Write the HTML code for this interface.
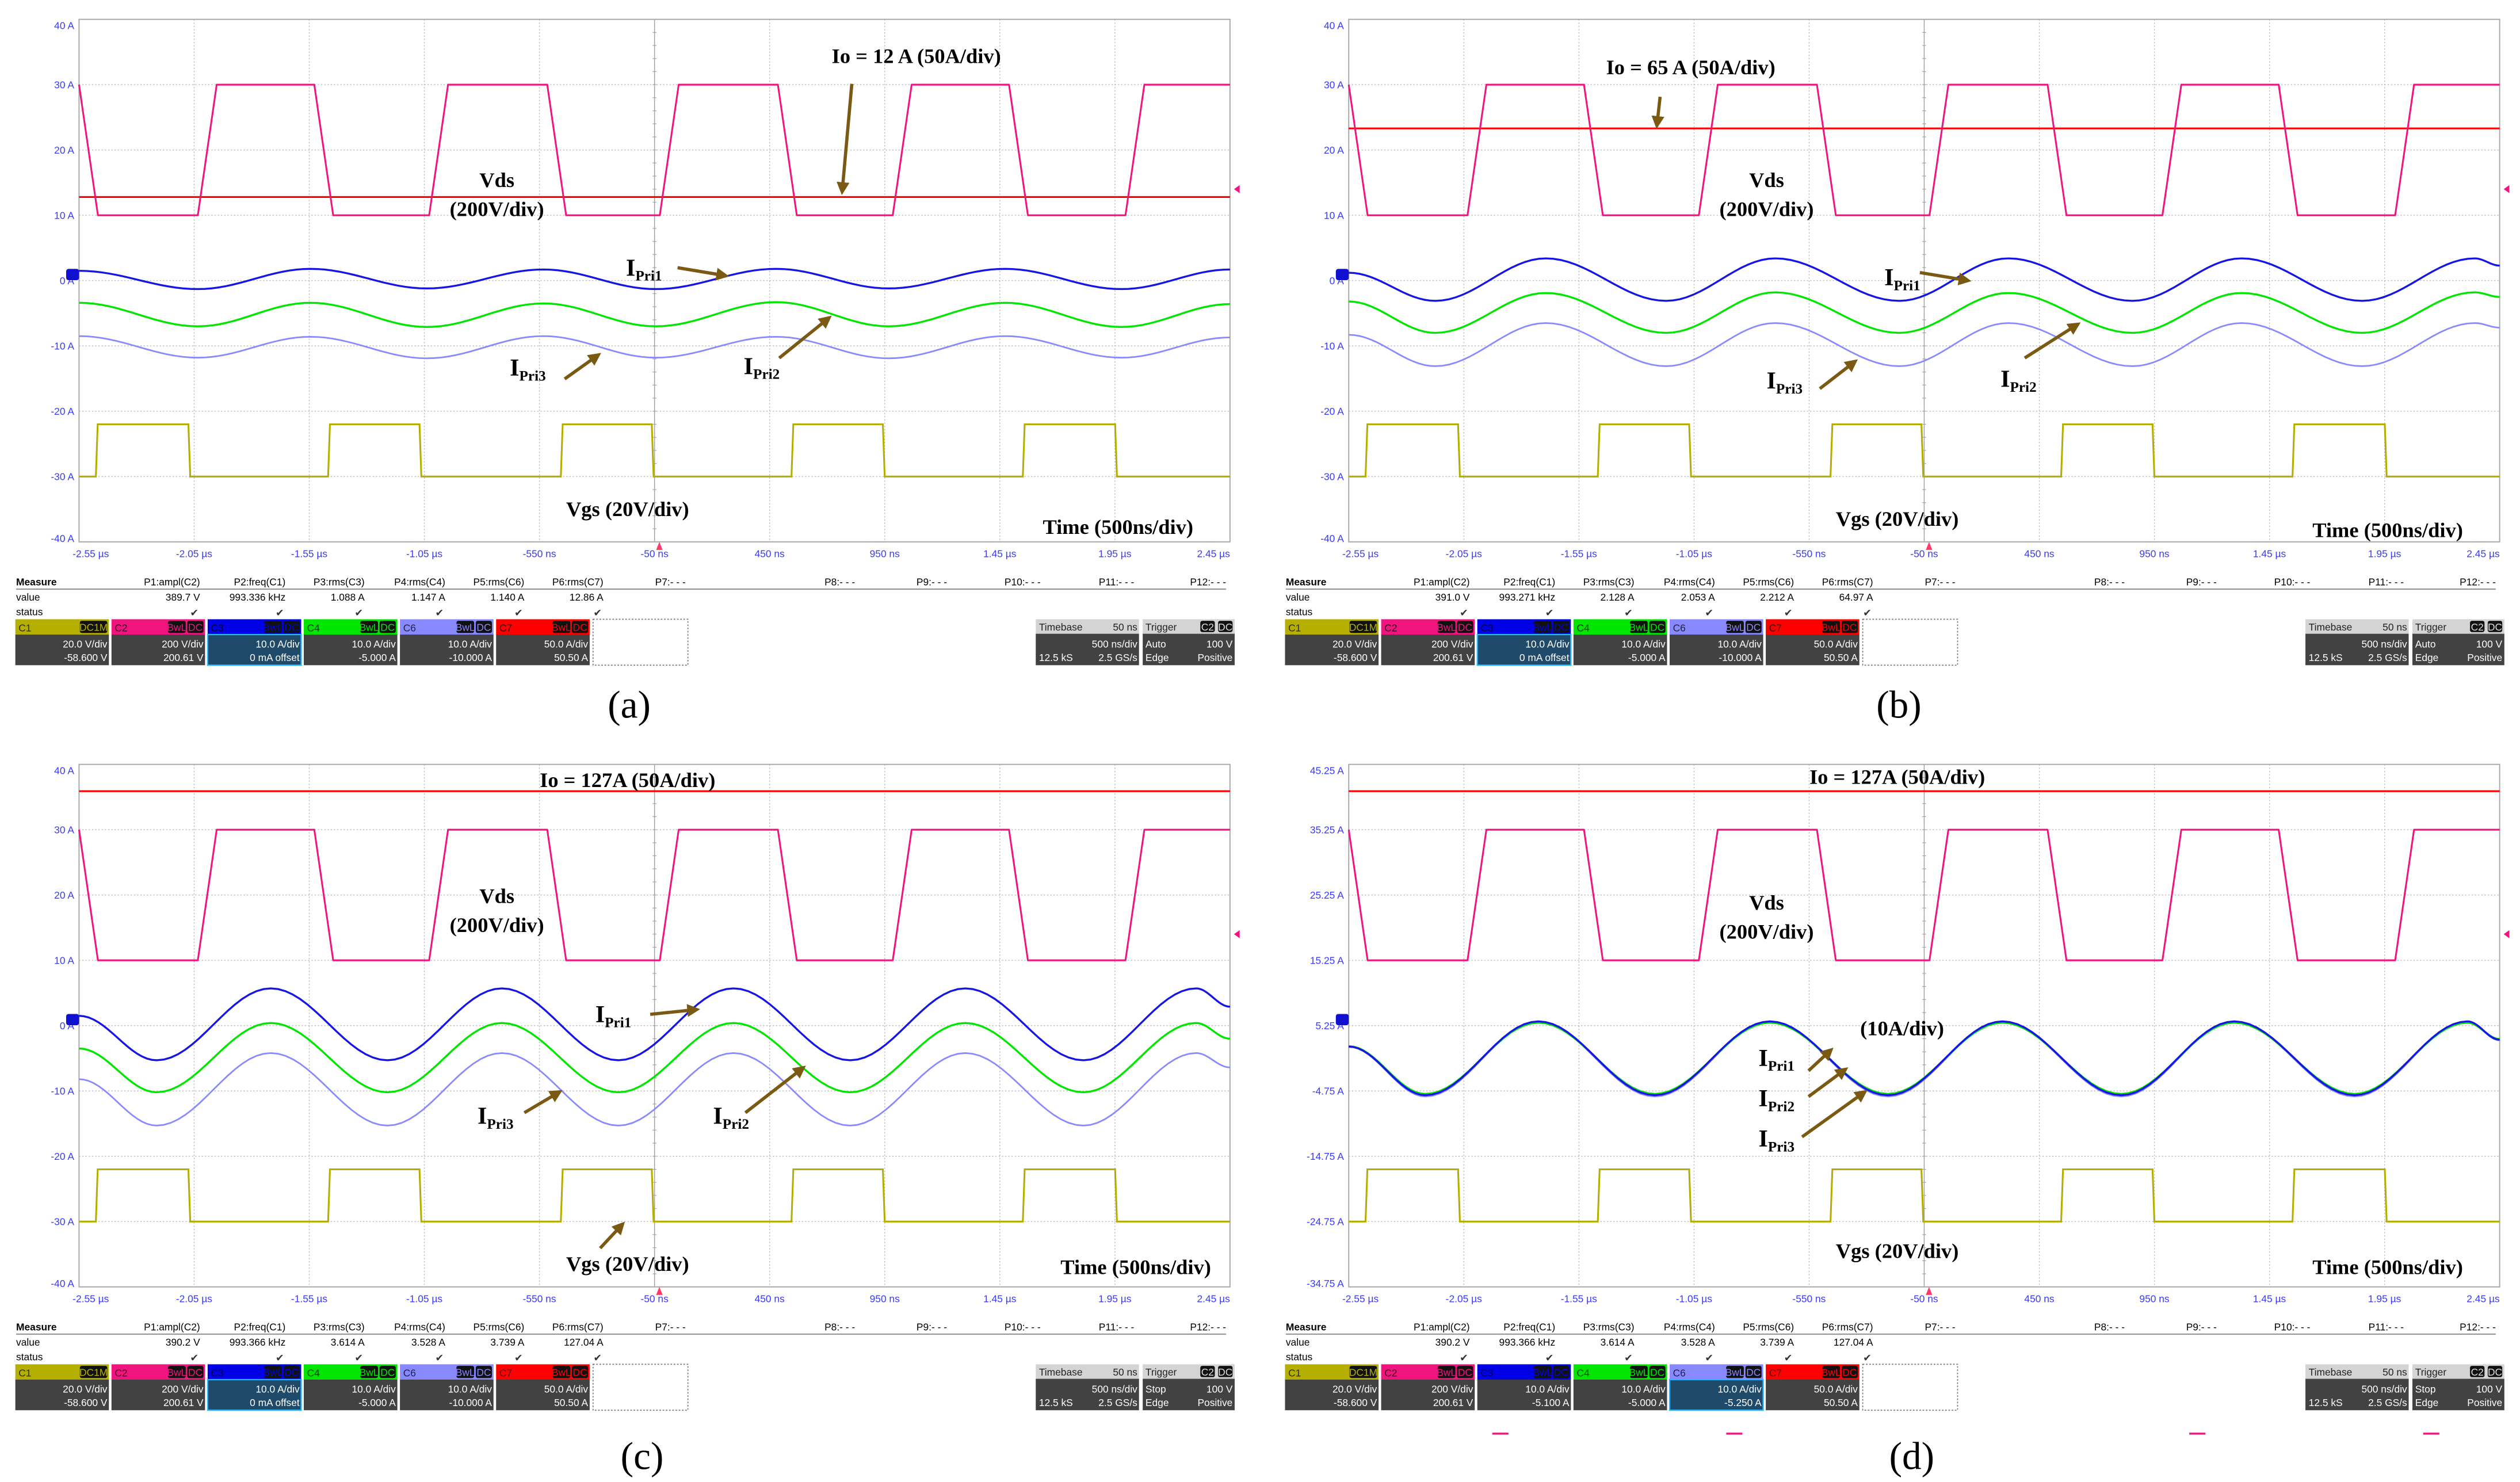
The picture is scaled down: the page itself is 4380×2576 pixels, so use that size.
<!DOCTYPE html>
<html><head><meta charset="utf-8"><title>Oscilloscope waveforms (a)-(d)</title>
<style>
html,body{margin:0;padding:0;background:#fff;}
svg{display:block;}
.ann{font-family:"Liberation Serif",serif;font-weight:bold;font-size:13px;fill:#000;}
.cap{font-family:"Liberation Serif",serif;font-size:24px;fill:#000;}
.sc{font-family:"Liberation Sans",sans-serif;font-size:6.2px;}
</style></head>
<body>
<svg id="fig" xmlns="http://www.w3.org/2000/svg" width="4380" height="2576" viewBox="0 0 1562 919" preserveAspectRatio="none">
<defs>
<marker id="ah" markerWidth="4" markerHeight="4" refX="3" refY="2" orient="auto" markerUnits="strokeWidth"><path d="M0,0 L4,2 L0,4 Z" fill="#7a5a12"/></marker>
</defs>
<rect x="0" y="0" width="1562" height="919" fill="#fff"/>
<g id="layer-scope"></g>

<g transform="translate(0,0)">
<text class="ann" x="568" y="39" text-anchor="middle">Io = 12 A (50A/div)</text>
<line x1="528" y1="52" x2="522" y2="119" stroke="#7a5a12" stroke-width="2" marker-end="url(#ah)"/>
<text class="ann" x="308" y="116" text-anchor="middle">Vds</text>
<text class="ann" x="308" y="134" text-anchor="middle">(200V/div)</text>
<text class="ann" x="388" y="171"><tspan font-size="15">I</tspan><tspan font-size="9" dy="3">Pri1</tspan></text>
<line x1="420" y1="166" x2="450" y2="171" stroke="#7a5a12" stroke-width="2" marker-end="url(#ah)"/>
<text class="ann" x="316" y="233"><tspan font-size="15">I</tspan><tspan font-size="9" dy="3">Pri3</tspan></text>
<line x1="350" y1="235" x2="371" y2="220" stroke="#7a5a12" stroke-width="2" marker-end="url(#ah)"/>
<text class="ann" x="461" y="232"><tspan font-size="15">I</tspan><tspan font-size="9" dy="3">Pri2</tspan></text>
<line x1="483" y1="222" x2="514" y2="197" stroke="#7a5a12" stroke-width="2" marker-end="url(#ah)"/>
<text class="ann" x="389" y="320" text-anchor="middle">Vgs (20V/div)</text>
<text class="ann" x="693" y="331" text-anchor="middle">Time (500ns/div)</text>
<text class="cap" x="390" y="445" text-anchor="middle">(a)</text>
</g>

<g transform="translate(787,0)">
<text class="ann" x="261" y="46" text-anchor="middle">Io = 65 A (50A/div)</text>
<line x1="242" y1="60" x2="240" y2="78" stroke="#7a5a12" stroke-width="2" marker-end="url(#ah)"/>
<text class="ann" x="308" y="116" text-anchor="middle">Vds</text>
<text class="ann" x="308" y="134" text-anchor="middle">(200V/div)</text>
<text class="ann" x="381" y="177"><tspan font-size="15">I</tspan><tspan font-size="9" dy="3">Pri1</tspan></text>
<line x1="403" y1="169" x2="433" y2="174" stroke="#7a5a12" stroke-width="2" marker-end="url(#ah)"/>
<text class="ann" x="308" y="241"><tspan font-size="15">I</tspan><tspan font-size="9" dy="3">Pri3</tspan></text>
<line x1="341" y1="241" x2="363" y2="224" stroke="#7a5a12" stroke-width="2" marker-end="url(#ah)"/>
<text class="ann" x="453" y="240"><tspan font-size="15">I</tspan><tspan font-size="9" dy="3">Pri2</tspan></text>
<line x1="468" y1="222" x2="501" y2="201" stroke="#7a5a12" stroke-width="2" marker-end="url(#ah)"/>
<text class="ann" x="389" y="326" text-anchor="middle">Vgs (20V/div)</text>
<text class="ann" x="693" y="333" text-anchor="middle">Time (500ns/div)</text>
<text class="cap" x="390" y="445" text-anchor="middle">(b)</text>
</g>

<g transform="translate(0,462)">
<text class="ann" x="389" y="26" text-anchor="middle">Io = 127A (50A/div)</text>
<text class="ann" x="308" y="98" text-anchor="middle">Vds</text>
<text class="ann" x="308" y="116" text-anchor="middle">(200V/div)</text>
<text class="ann" x="369" y="172"><tspan font-size="15">I</tspan><tspan font-size="9" dy="3">Pri1</tspan></text>
<line x1="403" y1="167" x2="432" y2="164" stroke="#7a5a12" stroke-width="2" marker-end="url(#ah)"/>
<text class="ann" x="296" y="235"><tspan font-size="15">I</tspan><tspan font-size="9" dy="3">Pri3</tspan></text>
<line x1="325" y1="228" x2="347" y2="215" stroke="#7a5a12" stroke-width="2" marker-end="url(#ah)"/>
<text class="ann" x="442" y="235"><tspan font-size="15">I</tspan><tspan font-size="9" dy="3">Pri2</tspan></text>
<line x1="462" y1="228" x2="498" y2="200" stroke="#7a5a12" stroke-width="2" marker-end="url(#ah)"/>
<text class="ann" x="389" y="326" text-anchor="middle">Vgs (20V/div)</text>
<line x1="372" y1="312" x2="386" y2="297" stroke="#7a5a12" stroke-width="2" marker-end="url(#ah)"/>
<text class="ann" x="704" y="328" text-anchor="middle">Time (500ns/div)</text>
<text class="cap" x="398" y="449" text-anchor="middle">(c)</text>
</g>

<g transform="translate(787,462)">
<text class="ann" x="389" y="24" text-anchor="middle">Io = 127A (50A/div)</text>
<text class="ann" x="308" y="102" text-anchor="middle">Vds</text>
<text class="ann" x="308" y="120" text-anchor="middle">(200V/div)</text>
<text class="ann" x="392" y="180" text-anchor="middle">(10A/div)</text>
<text class="ann" x="303" y="199"><tspan font-size="15">I</tspan><tspan font-size="9" dy="3">Pri1</tspan></text>
<text class="ann" x="303" y="224"><tspan font-size="15">I</tspan><tspan font-size="9" dy="3">Pri2</tspan></text>
<text class="ann" x="303" y="249"><tspan font-size="15">I</tspan><tspan font-size="9" dy="3">Pri3</tspan></text>
<line x1="334" y1="202" x2="348" y2="189" stroke="#7a5a12" stroke-width="2" marker-end="url(#ah)"/>
<line x1="334" y1="218" x2="357" y2="201" stroke="#7a5a12" stroke-width="2" marker-end="url(#ah)"/>
<line x1="330" y1="243" x2="369" y2="215" stroke="#7a5a12" stroke-width="2" marker-end="url(#ah)"/>
<text class="ann" x="389" y="318" text-anchor="middle">Vgs (20V/div)</text>
<text class="ann" x="693" y="328" text-anchor="middle">Time (500ns/div)</text>
<text class="cap" x="398" y="449" text-anchor="middle">(d)</text>
</g>
</svg>

<script>
const xTickTimes = [-2550,-2050,-1550,-1050,-550,-50,450,950,1450,1950,2450];
const xTickLabels = ["-2.55 µs","-2.05 µs","-1.55 µs","-1.05 µs","-550 ns","-50 ns","450 ns","950 ns","1.45 µs","1.95 µs","2.45 µs"];
const yTickValuesABC = [40,30,20,10,0,-10,-20,-30,-40];
const yTickLabelsABC = ["40 A","30 A","20 A","10 A","0 A","-10 A","-20 A","-30 A","-40 A"];
const yTickValuesD = [45.25,35.25,25.25,15.25,5.25,-4.75,-14.75,-24.75,-34.75];
const yTickLabelsD = ["45.25 A","35.25 A","25.25 A","15.25 A","5.25 A","-4.75 A","-14.75 A","-24.75 A","-34.75 A"];
const vZero = [0,0,0,5.25];

const vdsFallTimes = [-2550,-1528,-516,486,1490];
const vdsRiseTimes = [-2034,-1029,-27,985,1996];
const vdsHigh = [30,30,30,35.25];
const vdsLow = [10,10,10,15.25];
const vgsRiseTimes = [-2477,-1468,-457,545,1550];
const vgsFallTimes = [-2075,-1071,-62,942,1951];
const vgsHigh = [-22,-22,-22,-16.75];
const vgsLow = [-30,-30,-30,-24.75];
const ioLevel = [12.8,23.3,35.9,41.15];

const iTimesA = [-2550,-2034,-1545,-1039,-533,-45,478,967,1473,1979,2450];
const iBlueA = [1.5,-1.3,1.8,-1.2,1.7,-1.3,1.8,-1.2,1.8,-1.3,1.7];
const iGreenA = [-3.4,-7.0,-3.4,-7.1,-3.5,-7.0,-3.3,-7.0,-3.4,-7.1,-3.6];
const iPurpleA = [-8.5,-11.8,-8.6,-11.9,-8.5,-11.8,-8.6,-11.9,-8.5,-11.8,-8.7];

const iTimesB = [-2550,-2174,-1694,-1171,-697,-158,316,855,1329,1852,2342,2450];
const iBlueB = [1.2,-3.1,3.4,-3.1,3.4,-3.1,3.4,-3.1,3.4,-3.1,3.4,2.3];
const iGreenB = [-3.2,-8.0,-1.9,-8.0,-1.8,-8.0,-1.9,-8.0,-1.9,-8.0,-1.8,-2.5];
const iPurpleB = [-8.3,-13.1,-6.5,-13.1,-6.5,-13.1,-6.5,-13.1,-6.5,-13.1,-6.5,-7.2];

const iTimesC = [-2550,-2213,-1717,-1210,-713,-207,293,800,1300,1813,2303,2450];
const iBlueC = [1.5,-5.3,5.7,-5.3,5.7,-5.3,5.7,-5.3,5.7,-5.3,5.7,2.9];
const iGreenC = [-3.5,-10.2,0.4,-10.2,0.4,-10.2,0.4,-10.2,0.4,-10.2,0.4,-2.0];
const iPurpleC = [-8.2,-15.3,-4.2,-15.3,-4.2,-15.3,-4.2,-15.3,-4.2,-15.3,-4.2,-6.4];

const iTimesD = [-2550,-2217,-1726,-1220,-720,-207,290,806,1297,1820,2310,2450];
const iBlueD = [2.05,-5.4,5.9,-5.4,5.9,-5.4,5.9,-5.4,5.9,-5.4,5.9,3.1];
const iGreenD = [2.1,-5.2,5.7,-5.2,5.7,-5.2,5.7,-5.2,5.7,-5.2,5.7,3.2];
const iPurpleD = [2.0,-5.6,5.8,-5.6,5.8,-5.6,5.8,-5.6,5.8,-5.6,5.8,3.0];

const measHeaders = ["P1:ampl(C2)","P2:freq(C1)","P3:rms(C3)","P4:rms(C4)","P5:rms(C6)","P6:rms(C7)"];
const measValuesA = ["389.7 V","993.336 kHz","1.088 A","1.147 A","1.140 A","12.86 A"];
const measValuesB = ["391.0 V","993.271 kHz","2.128 A","2.053 A","2.212 A","64.97 A"];
const measValuesC = ["390.2 V","993.366 kHz","3.614 A","3.528 A","3.739 A","127.04 A"];
const measValuesD = ["390.2 V","993.366 kHz","3.614 A","3.528 A","3.739 A","127.04 A"];
const measEmpty = ["P7:- - -","P8:- - -","P9:- - -","P10:- - -","P11:- - -","P12:- - -"];

const L = 49, R = 762.4, T = 12, B = 336, ZY = 174;
const DIVY = (B - T) / 8;
const offsets = [[0,0],[787,0],[0,462],[787,462]];
const NS = "http://www.w3.org/2000/svg";
const root = document.getElementById('layer-scope');

function tx(t){ return L + (t + 2550) / 5000 * (R - L); }
function vy(v, p){ return ZY - (v - vZero[p]) / 10 * DIVY; }
function mk(tag, attrs, parent){
  const el = document.createElementNS(NS, tag);
  for (const k in attrs) el.setAttribute(k, attrs[k]);
  parent.appendChild(el);
  return el;
}
function txt(parent, x, y, s, cls, anchor, fill, weight){
  const el = mk('text', {x:x, y:y, class:cls, 'text-anchor':anchor||'start', fill:fill||'#000'}, parent);
  if (weight) el.setAttribute('font-weight', weight);
  el.textContent = s;
  return el;
}
function stepPath(p, falls, rises, hi, lo, startHigh, dur){
  const ev = [];
  falls.forEach(t => ev.push([t, lo]));
  rises.forEach(t => ev.push([t, hi]));
  ev.sort((a,b) => a[0]-b[0]);
  let cur = startHigh ? hi : lo;
  let d = 'M' + tx(-2550).toFixed(2) + ',' + vy(cur,p).toFixed(2);
  ev.forEach(e => {
    d += ' L' + tx(e[0]).toFixed(2) + ',' + vy(cur,p).toFixed(2);
    cur = e[1];
    d += ' L' + tx(Math.min(e[0]+dur,2450)).toFixed(2) + ',' + vy(cur,p).toFixed(2);
  });
  d += ' L' + tx(2450).toFixed(2) + ',' + vy(cur,p).toFixed(2);
  return d;
}
function smoothPath(p, times, vals){
  let d = 'M' + tx(times[0]).toFixed(2) + ',' + vy(vals[0],p).toFixed(2);
  for (let i = 0; i < times.length - 1; i++){
    const n = 16;
    for (let k = 1; k <= n; k++){
      const u = k / n, e = (1 - Math.cos(Math.PI * u)) / 2;
      const t = times[i] + (times[i+1] - times[i]) * u;
      const v = vals[i] + (vals[i+1] - vals[i]) * e;
      d += ' L' + tx(t).toFixed(2) + ',' + vy(v,p).toFixed(2);
    }
  }
  return d;
}

const panelKeys = ['a','b','c','d'];
const currentSets = [
  [iTimesA, iBlueA, iGreenA, iPurpleA],
  [iTimesB, iBlueB, iGreenB, iPurpleB],
  [iTimesC, iBlueC, iGreenC, iPurpleC],
  [iTimesD, iBlueD, iGreenD, iPurpleD]
];
const measVals = [measValuesA, measValuesB, measValuesC, measValuesD];
const measX = [124,177,226,276,325,374];
const emptyX = [425,530,587,645,703,760];

for (let p = 0; p < 4; p++){
  const key = panelKeys[p];
  const g = mk('g', {transform:'translate(' + offsets[p][0] + ',' + offsets[p][1] + ')'}, root);
  
  

  const grid = mk('g', {}, g);
  
  
  for (let i = 1; i < 10; i++){
    const x = L + i * (R - L) / 10;
    const ln = mk('line', {x1:x, y1:T, x2:x, y2:B, stroke:'#b8b8b8', 'stroke-width':0.5, 'stroke-dasharray':'0.8 1.2'}, grid);
    
    
  }
  for (let j = 1; j < 8; j++){
    const y = T + j * DIVY;
    const ln = mk('line', {x1:L, y1:y, x2:R, y2:y, stroke:'#b8b8b8', 'stroke-width':0.5, 'stroke-dasharray':'0.8 1.2'}, grid);
    
    
  }
  const cx = (L + R) / 2;
  mk('line', {x1:cx, y1:T, x2:cx, y2:B, stroke:'#a0a0a0', 'stroke-width':0.5}, grid);
  for (let k = 1; k < 40; k++){
    const y = T + k * DIVY / 5;
    mk('line', {x1:cx-1.2, y1:y, x2:cx+1.2, y2:y, stroke:'#a0a0a0', 'stroke-width':0.4}, grid);
  }
  const frame = mk('rect', {x:L, y:T, width:R-L, height:B-T, fill:'none', stroke:'#a8a8a8', 'stroke-width':0.7}, grid);
  
  

  const yv = p === 3 ? yTickValuesD : yTickValuesABC;
  const yl = p === 3 ? yTickLabelsD : yTickLabelsABC;
  for (let j = 0; j < yv.length; j++){
    const y = vy(yv[j], p);
    const t = txt(g, L - 3, Math.min(Math.max(y + 2.2, T + 6), B), yl[j], 'sc', 'end', '#3a3aff');
    
    
  }
  for (let i = 0; i < xTickTimes.length; i++){
    const anchor = i === 0 ? 'start' : (i === xTickTimes.length - 1 ? 'end' : 'middle');
    const x = i === 0 ? tx(xTickTimes[i]) - 4 : tx(xTickTimes[i]);
    const t = txt(g, x, 345.5, xTickLabels[i], 'sc', anchor, '#3a3aff');
    
    
  }

  const io = mk('line', {x1:L, y1:vy(ioLevel[p],p), x2:R, y2:vy(ioLevel[p],p), stroke:'#ff0000', 'stroke-width':1.1}, g);
  
  

  const vds = mk('path', {d:stepPath(p, vdsFallTimes, vdsRiseTimes, vdsHigh[p], vdsLow[p], true, 82), fill:'none', stroke:'#f0147f', 'stroke-width':1.1, 'stroke-linejoin':'round'}, g);
  
  

  const vgs = mk('path', {d:stepPath(p, vgsFallTimes, vgsRiseTimes, vgsHigh[p], vgsLow[p], false, 8), fill:'none', stroke:'#b5ad00', 'stroke-width':1.1}, g);
  
  

  const cs = currentSets[p];
  const pur = mk('path', {d:smoothPath(p, cs[0], cs[3]), fill:'none', stroke:'#8a8aff', 'stroke-width':1.0}, g);
  
  
  const grn = mk('path', {d:smoothPath(p, cs[0], cs[2]), fill:'none', stroke:'#00e600', 'stroke-width':1.2}, g);
  
  
  const blu = mk('path', {d:smoothPath(p, cs[0], cs[1]), fill:'none', stroke:'#1515e6', 'stroke-width':1.2}, g);
  
  

  const m3 = mk('rect', {x:L-8, y:vy(vZero[p]+0.8,p)-4, width:8, height:7, rx:1.5, fill:'#1010d0'}, g);
  
  
  const tri = mk('path', {d:'M' + (R+6) + ',' + (vy(vdsHigh[p]-16,p)-2.5) + ' L' + (R+2.5) + ',' + vy(vdsHigh[p]-16,p) + ' L' + (R+6) + ',' + (vy(vdsHigh[p]-16,p)+2.5) + ' Z', fill:'#f0147f'}, g);
  
  
  const tpos = mk('path', {d:'M' + (cx+3) + ',' + B + ' L' + (cx+5) + ',' + (B+5) + ' L' + (cx+1) + ',' + (B+5) + ' Z', fill:'#ff3a6a'}, g);
  
  

  const ms = mk('g', {}, g);
  
  
  txt(ms, 10, 363, 'Measure', 'sc', 'start', '#000', 'bold');
  txt(ms, 10, 372.5, 'value', 'sc', 'start', '#000');
  txt(ms, 10, 381.5, 'status', 'sc', 'start', '#000');
  mk('line', {x1:10, y1:365.3, x2:760, y2:365.3, stroke:'#999', 'stroke-width':0.8}, ms);
  for (let i = 0; i < 6; i++){
    const h = txt(ms, measX[i], 363, measHeaders[i], 'sc', 'end', '#000');
    
    
    const v = txt(ms, measX[i], 372.5, measVals[p][i], 'sc', 'end', '#000');
    
    
    txt(ms, measX[i] - 1, 382, '✔', 'sc', 'end', '#333');
    const e = txt(ms, emptyX[i], 363, measEmpty[i], 'sc', 'end', '#000');
    
    
  }

  const chIds = ['C1','C2','C3','C4','C6','C7'];
  const chCol = ['#b5b000','#f0147f','#0000e6','#00e600','#8888ff','#ff0000'];
  const chL1 = ['20.0 V/div','200 V/div','10.0 A/div','10.0 A/div','10.0 A/div','50.0 A/div'];
  const chL2 = p === 3 ? ['-58.600 V','200.61 V','-5.100 A','-5.000 A','-5.250 A','50.50 A'] : ['-58.600 V','200.61 V','0 mA offset','-5.000 A','-10.000 A','50.50 A'];
  const active = p === 3 ? 4 : 2;
  for (let c = 0; c < 6; c++){
    const x0 = 9.5 + c * 59.6;
    const bx = mk('g', {}, g);
    
    
    mk('rect', {x:x0, y:384, width:58, height:9.5, fill:chCol[c]}, bx);
    mk('rect', {x:x0, y:393.5, width:58, height:19, fill: c === active ? '#1f4a6a' : '#424242', stroke: c === active ? '#28b8ff' : 'none', 'stroke-width':0.8}, bx);
    txt(bx, x0 + 2, 391.6, chIds[c], 'sc', 'start', 'rgba(0,0,0,0.75)');
    if (c === 0){
      mk('rect', {x:x0 + 40, y:385, width:17, height:7.5, rx:1.2, fill:'#111'}, bx);
      txt(bx, x0 + 48.5, 391.2, 'DC1M', 'sc', 'middle', chCol[c]);
    } else {
      mk('rect', {x:x0 + 35, y:385, width:11, height:7.5, rx:1.2, fill:'#111'}, bx);
      txt(bx, x0 + 40.5, 391.2, 'BwL', 'sc', 'middle', chCol[c]);
      mk('rect', {x:x0 + 47, y:385, width:10, height:7.5, rx:1.2, fill:'#111'}, bx);
      txt(bx, x0 + 52, 391.2, 'DC', 'sc', 'middle', chCol[c]);
    }
    txt(bx, x0 + 57, 401.6, chL1[c], 'sc', 'end', '#fff');
    txt(bx, x0 + 57, 409.9, chL2[c], 'sc', 'end', '#fff');
  }
  const dash = mk('rect', {x:367.6, y:384, width:58.8, height:28.5, fill:'none', stroke:'#777', 'stroke-width':0.6, 'stroke-dasharray':'1 1'}, g);
  
  

  const tb = mk('g', {}, g);
  
  
  mk('rect', {x:642, y:384, width:64, height:9, fill:'#d4d4d4'}, tb);
  mk('rect', {x:642, y:393, width:64, height:19.5, fill:'#424242'}, tb);
  txt(tb, 644, 391, 'Timebase', 'sc', 'start', '#222');
  txt(tb, 705, 391, '50 ns', 'sc', 'end', '#222');
  txt(tb, 705, 401.6, '500 ns/div', 'sc', 'end', '#fff');
  txt(tb, 644, 409.9, '12.5 kS', 'sc', 'start', '#fff');
  txt(tb, 705, 409.9, '2.5 GS/s', 'sc', 'end', '#fff');
  const tg = mk('g', {}, g);
  
  
  mk('rect', {x:708.3, y:384, width:57, height:9, fill:'#d4d4d4'}, tg);
  mk('rect', {x:708.3, y:393, width:57, height:19.5, fill:'#424242'}, tg);
  txt(tg, 710, 391, 'Trigger', 'sc', 'start', '#222');
  mk('rect', {x:744, y:385, width:9, height:7, rx:1.2, fill:'#111'}, tg);
  mk('rect', {x:755, y:385, width:9, height:7, rx:1.2, fill:'#111'}, tg);
  txt(tg, 748.5, 391, 'C2', 'sc', 'middle', '#ddd');
  txt(tg, 759.5, 391, 'DC', 'sc', 'middle', '#ddd');
  txt(tg, 710, 401.6, p >= 2 ? 'Stop' : 'Auto', 'sc', 'start', '#fff');
  txt(tg, 764, 401.6, '100 V', 'sc', 'end', '#fff');
  txt(tg, 710, 409.9, 'Edge', 'sc', 'start', '#fff');
  txt(tg, 764, 409.9, 'Positive', 'sc', 'end', '#fff');

  if (p === 3){
    [138, 283, 570, 715].forEach(x => {
      const pd = mk('line', {x1:x, y1:427, x2:x+10, y2:427, stroke:'#f0147f', 'stroke-width':1.2}, g);
      
      
    });
  }
}
</script>
</body></html>
